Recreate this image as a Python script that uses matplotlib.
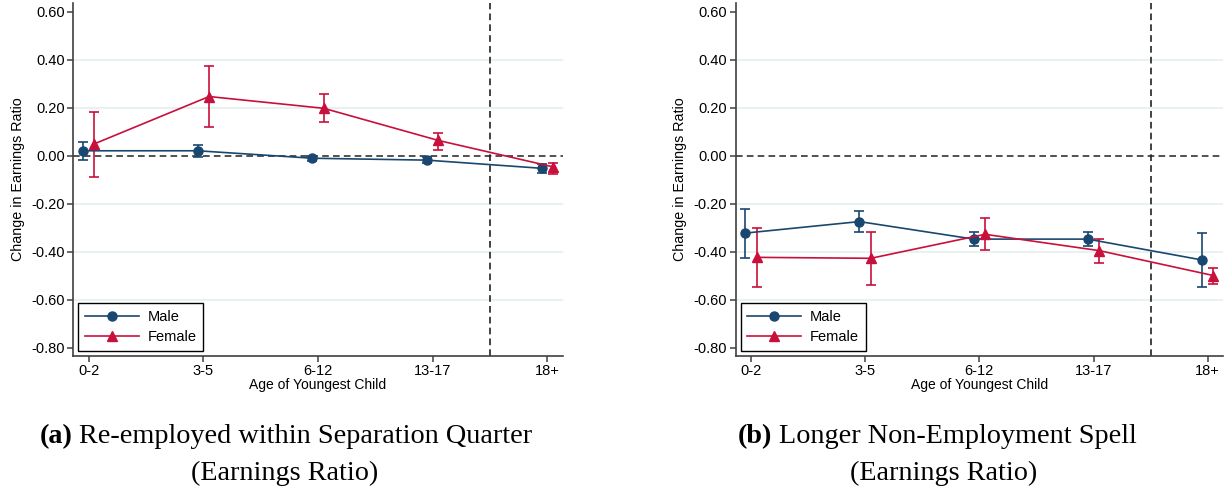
import numpy as np
import matplotlib.pyplot as plt

plt.rcParams['font.family'] = ['Liberation Sans', 'DejaVu Sans']

ages = ['0-2', '3-5', '6-12', '13-17', '18+']

# panel (a): re-employed within separation quarter
a_male = [0.020, 0.020, -0.011, -0.019, -0.053]
a_male_lo = [-0.019, -0.004, -0.024, -0.033, -0.072]
a_male_hi = [0.058, 0.046, 0.000, -0.007, -0.035]
a_fem = [0.049, 0.246, 0.197, 0.063, -0.047]
a_fem_lo = [-0.089, 0.121, 0.138, 0.024, -0.076]
a_fem_hi = [0.183, 0.372, 0.256, 0.096, -0.030]

# panel (b): longer non-employment spell
b_male = [-0.323, -0.275, -0.348, -0.348, -0.435]
b_male_lo = [-0.425, -0.319, -0.375, -0.375, -0.546]
b_male_hi = [-0.223, -0.229, -0.319, -0.320, -0.323]
b_fem = [-0.424, -0.428, -0.328, -0.396, -0.500]
b_fem_lo = [-0.548, -0.540, -0.393, -0.449, -0.535]
b_fem_hi = [-0.303, -0.317, -0.262, -0.347, -0.467]

yticks = [0.6, 0.4, 0.2, 0.0, -0.2, -0.4, -0.6, -0.8]
grid_at = [0.4, 0.2, -0.2, -0.4, -0.6]

navy = '#1a476f'
red = '#c8103c'
grid_c = '#e8f0f0'
spine_c = '#404040'


def panel(ax, male, mlo, mhi, fem, flo, fhi):
    x = np.arange(1, len(ages) + 1)
    for v in grid_at:
        ax.axhline(v, color=grid_c, lw=1.3, zorder=0)
    ax.axhline(0, color='#333333', lw=1.2, ls=(0, (4, 2.5)), zorder=1)
    ax.axvline(4.5, color='#222222', lw=1.2, ls=(0, (4, 2.5)), zorder=1)

    m = np.array(male)
    f = np.array(fem)
    ax.errorbar(x - 0.05, m, yerr=[m - np.array(mlo), np.array(mhi) - m],
                color=navy, marker='o', ms=6.5, lw=1.2, elinewidth=1.2,
                capsize=3.5, capthick=1.2, label='Male', zorder=3)
    ax.errorbar(x + 0.05, f, yerr=[f - np.array(flo), np.array(fhi) - f],
                color=red, marker='^', ms=6.5, lw=1.2, elinewidth=1.2,
                capsize=3.5, capthick=1.2, label='Female', zorder=3)

    ax.set_xlim(0.866, 5.134)
    ax.set_ylim(-0.835, 0.636)
    ax.set_xticks(x)
    ax.set_xticklabels(ages)
    ax.set_yticks(yticks)
    ax.set_yticklabels(['%.2f' % v for v in yticks])
    ax.tick_params(labelsize=10.5, color=spine_c, length=4, width=1.1, pad=2)
    for s in ['top', 'right']:
        ax.spines[s].set_visible(False)
    for s in ['left', 'bottom']:
        ax.spines[s].set_color(spine_c)
        ax.spines[s].set_linewidth(1.2)
    ax.set_xlabel('Age of Youngest Child', fontsize=10, labelpad=0)
    ax.set_ylabel('Change in Earnings Ratio', fontsize=10.3, labelpad=5)

    handles, labels = ax.get_legend_handles_labels()
    handles = [h[0] for h in handles]
    leg = ax.legend(handles, labels, loc='lower left', fontsize=10.5,
                    fancybox=False, edgecolor='black', framealpha=1,
                    borderaxespad=0.35, handlelength=3.7, handletextpad=0.6,
                    borderpad=0.45, labelspacing=0.45)
    leg.get_frame().set_linewidth(1.0)


fig = plt.figure(figsize=(12.28, 4.87), dpi=100)
ax1 = fig.add_axes([0.0597, 0.269, 0.3985, 0.725])
ax2 = fig.add_axes([0.599, 0.269, 0.397, 0.725])
panel(ax1, a_male, a_male_lo, a_male_hi, a_fem, a_fem_lo, a_fem_hi)
panel(ax2, b_male, b_male_lo, b_male_hi, b_fem, b_fem_lo, b_fem_hi)

# subfigure captions
serif = ['Liberation Serif', 'DejaVu Serif']
cap = 20.3
renderer = fig.canvas.get_renderer()
space = cap * 100 / 72 * 0.25
captions = [('(a)', 'Re-employed within Separation Quarter', 286, 285),
            ('(b)', 'Longer Non-Employment Spell', 937, 944)]
for lab, txt, cx1, cx2 in captions:
    y1 = 1 - 443 / 487
    t1 = fig.text(0, y1, lab, fontsize=cap, family=serif, fontweight='bold',
                  va='baseline', ha='left')
    t2 = fig.text(0, y1, txt, fontsize=cap, family=serif,
                  va='baseline', ha='left')
    w1 = t1.get_window_extent(renderer).width
    w2 = t2.get_window_extent(renderer).width
    x0 = cx1 - (w1 + space + w2) / 2
    t1.set_x(x0 / 1228)
    t2.set_x((x0 + w1 + space) / 1228)
    fig.text(cx2 / 1228, 1 - 480 / 487, '(Earnings Ratio)', fontsize=cap,
             family=serif, va='baseline', ha='center')

fig.savefig('out.png', dpi=100)
